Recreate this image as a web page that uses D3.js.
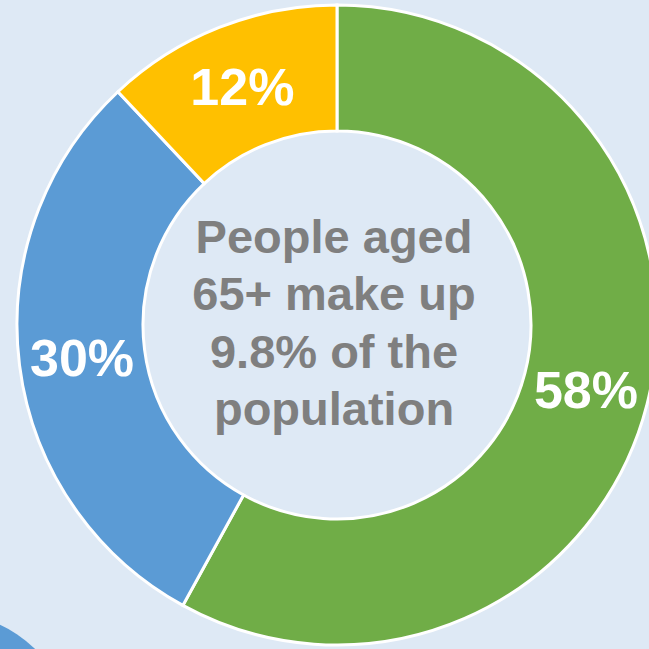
<!DOCTYPE html>
<meta charset="utf-8">
<style>
  body {margin: 0; background: #dee9f5;}
  svg {display: block; font-family: 'Liberation Sans', Arial, sans-serif;}
</style>
<svg width="649" height="649"></svg>
<script src="https://cdnjs.cloudflare.com/ajax/libs/d3/7.8.5/d3.min.js"></script>
<script>
// slices, clockwise from 12 o'clock
var categories = ["Green", "Blue", "Yellow"];
var values = [58, 30, 12];
var colors = ["#70ad47", "#5b9bd5", "#ffc000"];
var centerLines = ["People aged", "65+ make up", "9.8% of the", "population"];

var svg = d3.select("svg"),
    width = +svg.attr("width"),
    height = +svg.attr("height");

var cx = 337, cy = 325,
    outerR = 320, innerR = 194;

svg.append("rect")
    .attr("width", width)
    .attr("height", height)
    .attr("fill", "#dee9f5");

// corner decoration bottom left
svg.append("circle")
    .attr("cx", -50)
    .attr("cy", 735)
    .attr("r", 121)
    .attr("fill", "#5b9bd5");

var pie = d3.pie().sort(null).value(function(d) { return d; });
var arc = d3.arc().innerRadius(innerR).outerRadius(outerR);

var g = svg.append("g").attr("transform", "translate(" + cx + "," + cy + ")");

var slices = g.selectAll("g.slice")
    .data(pie(values))
    .enter().append("g")
    .attr("class", "slice");

slices.append("path")
    .attr("d", arc)
    .attr("fill", function(d, i) { return colors[i]; })
    .attr("stroke", "#fff")
    .attr("stroke-width", 3);

slices.append("text")
    .attr("transform", function(d) { return "translate(" + arc.centroid(d) + ")"; })
    .attr("text-anchor", "middle")
    .attr("dy", "0.37em")
    .attr("fill", "#fff")
    .attr("font-weight", "bold")
    .attr("font-size", "52px")
    .text(function(d) { return d.data + "%"; });

// middle text
g.append("text")
    .attr("text-anchor", "middle")
    .attr("fill", "#7f7f7f")
    .attr("font-weight", "bold")
    .attr("font-size", "47px")
    .selectAll("tspan")
    .data(centerLines)
    .enter().append("tspan")
    .attr("x", -3)
    .attr("y", function(d, i) { return -72 + i * 57.3; })
    .text(function(d) { return d; });
</script>
